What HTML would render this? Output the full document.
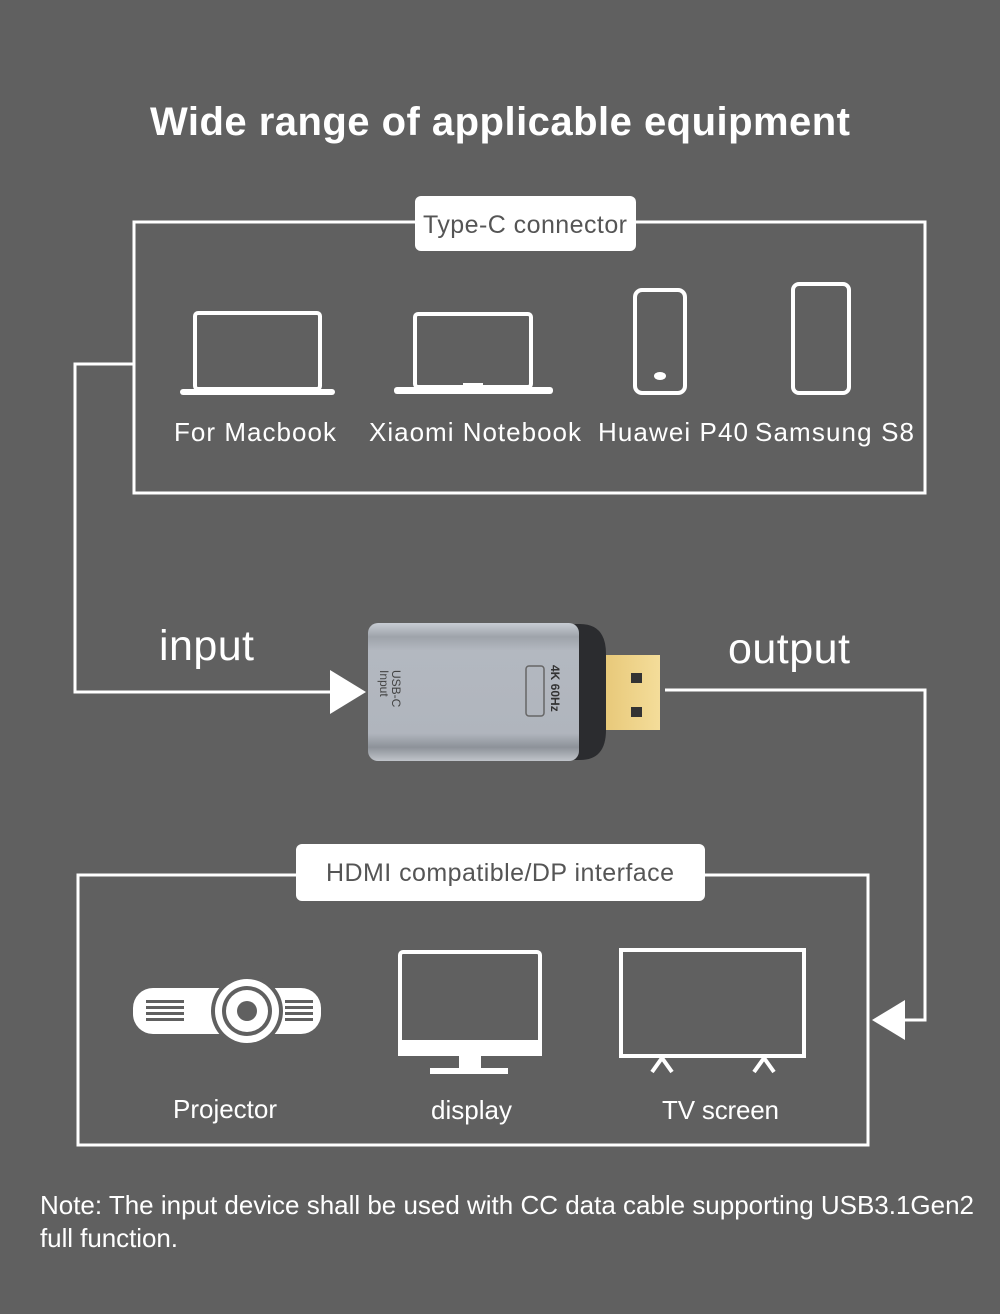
<!DOCTYPE html>
<html><head><style>
body{margin:0;background:#606060;}
svg{display:block}
text{font-family:"Liberation Sans",sans-serif;fill:#fff}
</style></head><body>
<svg width="1000" height="1314" viewBox="0 0 1000 1314">
<defs>
<linearGradient id="al" x1="0" y1="0" x2="0" y2="1">
<stop offset="0" stop-color="#c7ccd3"/><stop offset="0.1" stop-color="#9ea3aa"/><stop offset="0.2" stop-color="#b3b8c0"/><stop offset="0.8" stop-color="#b0b5bd"/><stop offset="0.9" stop-color="#8d9299"/><stop offset="1" stop-color="#c0c4ca"/>
</linearGradient>
<linearGradient id="gd" x1="0" y1="0" x2="1" y2="0"><stop offset="0" stop-color="#e8c97a"/><stop offset="1" stop-color="#f4dd9a"/></linearGradient>
</defs>
<rect width="1000" height="1314" fill="#606060"/>
<text x="500" y="135" text-anchor="middle" font-size="40" font-weight="bold" textLength="700">Wide range of applicable equipment</text>
<g fill="none" stroke="#fff" stroke-width="3">
<rect x="134" y="222" width="791" height="271"/>
<polyline points="134,364 75,364 75,692 335,692"/>
<polyline points="665,690 925,690 925,1020 900,1020"/>
<rect x="78" y="875" width="790" height="270"/>
</g>
<polygon points="330,670 366,692 330,714" fill="#fff"/>
<polygon points="905,1000 872,1020 905,1040" fill="#fff"/>
<rect x="415" y="196" width="221" height="55" rx="6" fill="#fff"/>
<text x="525" y="233" text-anchor="middle" font-size="25" style="fill:#555" textLength="204">Type-C connector</text>
<rect x="296" y="844" width="409" height="57" rx="6" fill="#fff"/>
<text x="500" y="881" text-anchor="middle" font-size="25" style="fill:#555" textLength="348">HDMI compatible/DP interface</text>
<g fill="none" stroke="#fff" stroke-width="4">
<rect x="195" y="313" width="125" height="76" rx="3"/>
<rect x="415" y="314" width="116" height="73" rx="3"/>
<rect x="635" y="290" width="50" height="103" rx="7"/>
<rect x="793" y="284" width="56" height="109" rx="6"/>
<rect x="400" y="952" width="140" height="100" rx="3"/>
<rect x="621" y="950" width="183" height="106"/>
<polyline points="652,1072 662,1058 672,1072"/>
<polyline points="754,1072 764,1058 774,1072"/>
</g>
<rect x="180" y="389" width="155" height="6" rx="3" fill="#fff"/>
<rect x="394" y="387" width="159" height="7" rx="3" fill="#fff"/>
<rect x="463" y="383" width="20" height="4" fill="#fff"/>
<ellipse cx="660" cy="376" rx="6" ry="4" fill="#fff"/>
<rect x="398" y="1040" width="144" height="16" fill="#fff"/>
<rect x="459" y="1054" width="22" height="16" fill="#fff"/>
<rect x="430" y="1068" width="78" height="6" fill="#fff"/>
<rect x="133" y="988" width="188" height="46" rx="20" fill="#fff"/>
<circle cx="247" cy="1011" r="36" fill="#606060"/>
<circle cx="247" cy="1011" r="32" fill="#fff"/>
<circle cx="247" cy="1011" r="25" fill="#606060"/>
<circle cx="247" cy="1011" r="21" fill="#fff"/>
<circle cx="247" cy="1011" r="10" fill="#606060"/>
<g fill="#606060">
<rect x="146" y="1000" width="38" height="3"/><rect x="146" y="1006" width="38" height="3"/><rect x="146" y="1012" width="38" height="3"/><rect x="146" y="1018" width="38" height="3"/>
<rect x="285" y="1000" width="28" height="3"/><rect x="285" y="1006" width="28" height="3"/><rect x="285" y="1012" width="28" height="3"/><rect x="285" y="1018" width="28" height="3"/>
</g>
<g font-size="26">
<text x="174" y="441" textLength="162">For Macbook</text>
<text x="369" y="441" textLength="212">Xiaomi Notebook</text>
<text x="598" y="441" textLength="150">Huawei P40</text>
<text x="755" y="441" textLength="159">Samsung S8</text>
<text x="173" y="1118" textLength="104">Projector</text>
<text x="431" y="1119" textLength="81">display</text>
<text x="662" y="1119" textLength="117">TV screen</text>
<text x="40" y="1214" textLength="934">Note: The input device shall be used with CC data cable supporting USB3.1Gen2</text>
<text x="40" y="1247" textLength="138">full function.</text>
</g>
<text x="159" y="660" font-size="43" textLength="95">input</text>
<text x="728" y="663" font-size="43" textLength="122">output</text>
<path d="M570,624 h10 q26,0 26,30 v76 q0,30 -26,30 h-10 z" fill="#2b2c2f"/>
<rect x="606" y="655" width="54" height="75" fill="url(#gd)"/>
<rect x="631" y="673" width="11" height="10" fill="#333"/>
<rect x="631" y="707" width="11" height="10" fill="#333"/>
<rect x="368" y="623" width="211" height="138" rx="10" fill="url(#al)"/>
<rect x="526" y="666" width="18" height="50" rx="3" fill="none" stroke="#666" stroke-width="1.5"/>
<text transform="translate(392,670) rotate(90)" font-size="12" style="fill:#444">USB-C</text>
<text transform="translate(380,670) rotate(90)" font-size="12" style="fill:#444">Input</text>
<text transform="translate(551,665) rotate(90)" font-size="12" font-weight="bold" style="fill:#333">4K 60Hz</text>
</svg>
</body></html>
